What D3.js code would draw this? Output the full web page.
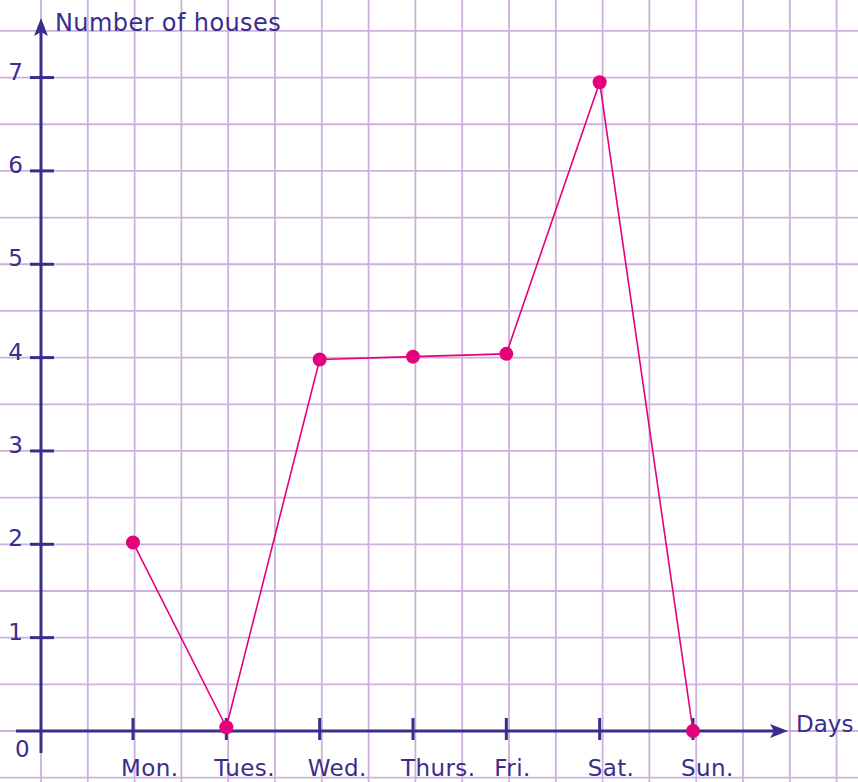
<!DOCTYPE html>
<html>
<head>
<meta charset="utf-8">
<script src="https://cdn.jsdelivr.net/npm/d3@7/dist/d3.min.js"></script>
<style>
  html, body { margin: 0; padding: 0; background: #ffffff; }
  svg { display: block; }
  text { font-family: "DejaVu Sans", "Open Sans", sans-serif; fill: #3a2d8c; }
</style>
</head>
<body>
<svg id="chart" width="858" height="782"></svg>
<script>
const days = ["Mon.", "Tues.", "Wed.", "Thurs.", "Fri.", "Sat.", "Sun."];
const houses = [2.02, 0.04, 3.98, 4.01, 4.04, 6.95, 0];
const yTicks = [1, 2, 3, 4, 5, 6, 7];
const yTitle = "Number of houses";
const xTitle = "Days";

const W = 858, H = 782;
const x0 = 41, y0 = 731;
const svg = d3.select("#chart");

const y = d3.scaleLinear().domain([0, 7]).range([y0, y0 - 7 * 93.35]);
const x = d3.scalePoint().domain(days).range([133, 693]);

const axisColor = "#3a2d8c";
const gridColor = "#cdb0dc";
const lineColor = "#e5007d";

// grid (half-unit squares)
const step = (y(0) - y(1)) / 2;
const g = svg.append("g");
const vLines = d3.range(-1, 19).map(i => x0 + i * 46.8);
g.selectAll("line.v").data(vLines).join("line")
  .attr("x1", d => d).attr("x2", d => d).attr("y1", 0).attr("y2", H)
  .attr("stroke", gridColor).attr("stroke-width", 1.8);
const hLines = d3.range(-2, 17).map(i => y0 - i * step);
g.selectAll("line.h").data(hLines).join("line")
  .attr("x1", 0).attr("x2", W).attr("y1", d => d).attr("y2", d => d)
  .attr("stroke", gridColor).attr("stroke-width", 1.8);

// axes
svg.append("line").attr("x1", x0).attr("x2", x0).attr("y1", 30).attr("y2", 753)
  .attr("stroke", axisColor).attr("stroke-width", 3);
svg.append("path").attr("d", `M${x0},18 L${x0 - 7},36 L${x0},32 L${x0 + 7},36 Z`).attr("fill", axisColor);
svg.append("line").attr("x1", 16).attr("x2", 775).attr("y1", y0).attr("y2", y0)
  .attr("stroke", axisColor).attr("stroke-width", 3);
svg.append("path").attr("d", `M788,${y0} L770,${y0 - 7} L774,${y0} L770,${y0 + 7} Z`).attr("fill", axisColor);

// y ticks
svg.selectAll("line.yt").data(yTicks).join("line")
  .attr("x1", 30).attr("x2", 54).attr("y1", d => y(d)).attr("y2", d => y(d))
  .attr("stroke", axisColor).attr("stroke-width", 3);
svg.selectAll("text.yl").data(yTicks).join("text")
  .attr("x", 23).attr("y", d => y(d) + 2).attr("text-anchor", "end")
  .attr("font-size", 23).text(d => d);
svg.append("text").attr("x", 15).attr("y", 757).attr("font-size", 23).text("0");

// x ticks
svg.selectAll("line.xt").data(days).join("line")
  .attr("x1", d => x(d)).attr("x2", d => x(d)).attr("y1", y0 - 13).attr("y2", y0 + 9)
  .attr("stroke", axisColor).attr("stroke-width", 3);
svg.selectAll("text.xl").data(days).join("text")
  .attr("x", d => x(d) - 12).attr("y", 776).attr("text-anchor", "start")
  .attr("font-size", 23).attr("letter-spacing", 0.4).text(d => d);

// titles
svg.append("text").attr("x", 55).attr("y", 31).attr("font-size", 24)
  .attr("letter-spacing", 0.4).text(yTitle);
svg.append("text").attr("x", 796).attr("y", 732).attr("font-size", 23).text(xTitle);

// line + points
const line = d3.line().x((d, i) => x(days[i])).y(d => y(d));
svg.append("path").datum(houses).attr("d", line)
  .attr("fill", "none").attr("stroke", lineColor).attr("stroke-width", 1.6);
svg.selectAll("circle").data(houses).join("circle")
  .attr("cx", (d, i) => x(days[i])).attr("cy", d => y(d)).attr("r", 7)
  .attr("fill", lineColor);
</script>
</body>
</html>
